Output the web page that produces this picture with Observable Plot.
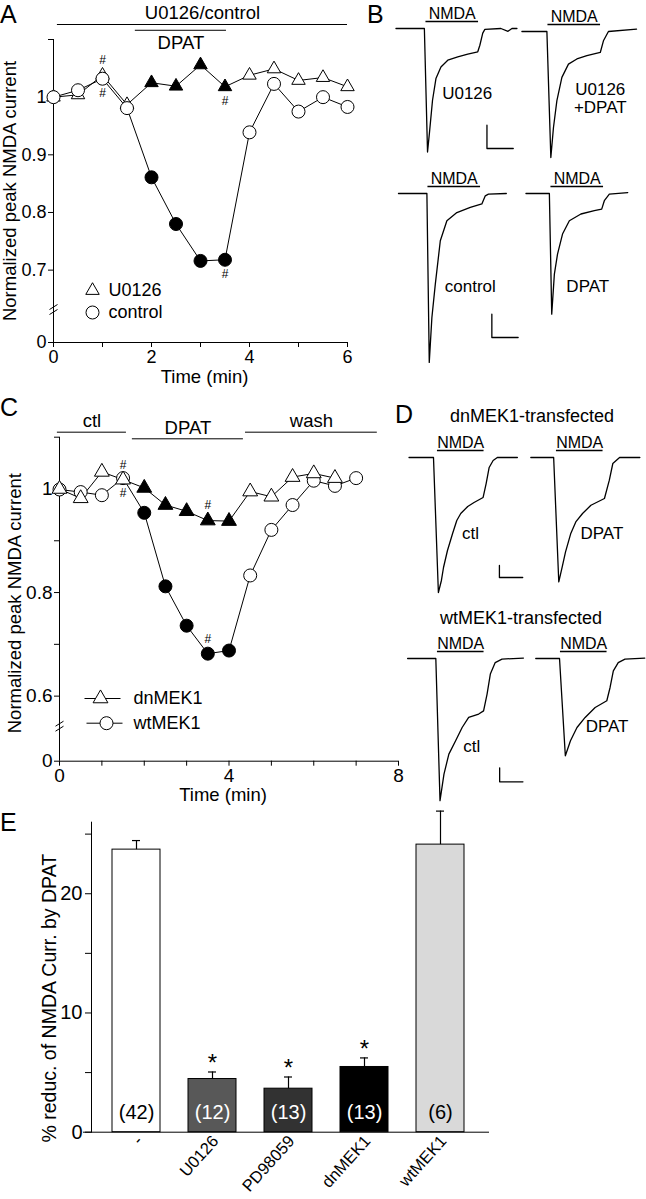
<!DOCTYPE html>
<html><head><meta charset="utf-8">
<script src="https://cdn.jsdelivr.net/npm/d3@7"></script>
<script src="https://cdn.jsdelivr.net/npm/@observablehq/plot@0.6"></script>
<style>
body{margin:0;background:#fff;}
#fig{position:relative;width:646px;height:1199px;overflow:hidden;background:#fff;font-family:"Liberation Sans",Arial,Helvetica,sans-serif;color:#000;}
.letter{position:absolute;font-size:25px;line-height:1;}
.sub{position:absolute;font-size:18px;line-height:1;transform:translate(-50%,-50%);white-space:nowrap;}
</style></head><body><div id="fig"></div>
<script>
// ---------------- DATA ----------------
// Panel A
const timeA = [0,0.5,1,1.5,2,2.5,3,3.5,4,4.5,5,5.5,6];
const u0126A = [1.0,1.004,1.038,0.987,1.025,1.019,1.056,1.018,1.038,1.049,1.029,1.034,1.018];
const controlA = [1.0,1.012,1.032,0.981,0.861,0.780,0.716,0.718,0.939,1.023,0.975,1.000,0.983];
const periodsA = [{label:"U0126/control", start:0.08, end:6.0},{label:"DPAT", start:1.67, end:3.53}];
const hashA = [{t:1,s:"U0126",side:"above"},{t:1,s:"control",side:"below"},{t:3.5,s:"U0126",side:"below"},{t:3.5,s:"control",side:"below"}];
const xTicksA = [0,1,2,3,4,5,6];
const xTickLabelsA = ["0","","2","","4","","6"];
const yTicksA = [0,0.7,0.8,0.9,1.0,1.1];
const yTickLabelsA = ["0","0.7","0.8","0.9","1",""];

// Panel C
const timeC = [0,0.5,1,1.5,2,2.5,3,3.5,4,4.5,5,5.5,6,6.5,7];
const dnMEK1C = [1.0,0.982,1.033,1.018,1.002,0.969,0.957,0.939,0.938,0.995,0.985,1.023,1.030,1.021];
const wtMEK1C = [0.999,0.994,0.988,1.021,0.954,0.812,0.736,0.682,0.688,0.833,0.921,0.969,1.016,1.006,1.021];
const periodsC = [{label:"ctl", start:-0.05, end:1.58},{label:"DPAT", start:1.72, end:4.34},{label:"wash", start:4.39, end:7.5}];
const hashC = [{t:1.5,s:"dnMEK1",side:"above"},{t:1.5,s:"wtMEK1",side:"below"},{t:3.5,s:"dnMEK1",side:"above"},{t:3.5,s:"wtMEK1",side:"above"}];
const xTicksC = [0,1,2,3,4,5,6,7,8];
const xTickLabelsC = ["0","","","","4","","","","8"];
const yTicksC = [0,0.6,0.7,0.8,0.9,1.0,1.1];
const yTickLabelsC = ["0","0.6","","0.8","","1",""];

// Panel E
const catsE = ["-","U0126","PD98059","dnMEK1","wtMEK1"];
const meansE = [23.7,4.46,3.65,5.47,24.12];
const semE = [0.76,0.59,0.98,0.76,2.81];
const nE = [42,12,13,13,6];
const sigE = [false,true,true,true,false];
const yTicksE = [0,5,10,15,20,25];
const yTickLabelsE = ["0","","10","","20",""];

// NMDA application (s) and current traces [time (s), current (scale-bar units)]
const nmdaOn = [0,2];
const traceB_U0126 = [[-1.14,0],[-0.06,0],[0.06,-5.30],[0.13,-4.51],[0.25,-3.08],[0.38,-2.15],[0.57,-1.65],[0.83,-1.36],[1.21,-1.22],[1.59,-1.10],[1.97,-1.0],[2.05,-0.72],[2.16,-0.2],[2.24,-0.04],[2.85,0],[3.12,-0.12],[3.27,0],[3.46,0]];
const traceB_U0126DPAT = [[-0.99,0],[-0.04,0],[0.11,-5.41],[0.21,-4.12],[0.34,-2.97],[0.53,-1.97],[0.78,-1.40],[1.10,-1.18],[1.48,-1.04],[1.99,-0.90],[2.11,-0.40],[2.30,0],[3.37,0.10]];
const traceB_control = [[-1.12,0],[-0.04,0],[0.05,-7.25],[0.15,-5.32],[0.28,-3.89],[0.47,-2.03],[0.72,-1.17],[1.10,-0.82],[1.61,-0.60],[2.05,-0.45],[2.18,-0.10],[2.30,-0.03],[2.98,0]];
const traceB_DPAT = [[-0.95,0],[-0.06,0],[0.03,-5.18],[0.13,-3.46],[0.25,-2.60],[0.44,-1.74],[0.70,-1.17],[1.14,-0.88],[1.65,-0.74],[1.93,-0.67],[2.03,-0.31],[2.22,-0.03],[2.92,0.04]];
const traceD_dn_ctl = [[-1.22,0],[-0.17,0],[0.04,-11.25],[0.17,-10.25],[0.26,-9.17],[0.43,-7.75],[0.65,-6.33],[0.83,-5.25],[1.0,-4.67],[1.30,-4.08],[1.57,-3.75],[1.96,-3.33],[2.09,-2.17],[2.22,-0.83],[2.39,-0.25],[2.57,0],[3.43,0]];
const traceD_dn_DPAT = [[-1.10,0],[-0.12,0],[0.10,-10.37],[0.25,-9.1],[0.39,-7.87],[0.61,-6.36],[0.83,-5.37],[1.12,-4.67],[1.48,-3.98],[2.06,-3.42],[2.27,-1.89],[2.42,-0.5],[2.71,0],[3.58,0]];
const traceD_wt_ctl = [[-1.28,0],[-0.07,0],[0.11,-10.16],[0.28,-8.26],[0.49,-6.83],[0.78,-5.88],[1.06,-4.93],[1.34,-4.21],[1.77,-3.97],[1.98,-3.74],[2.13,-2.54],[2.27,-1.11],[2.48,-0.29],[2.77,-0.04],[3.69,0.03]];
const traceD_wt_DPAT = [[-1.06,0],[-0.04,0],[0.21,-6.95],[0.43,-5.88],[0.71,-4.93],[1.06,-4.21],[1.49,-3.5],[1.99,-3.02],[2.13,-2.07],[2.27,-0.88],[2.48,-0.29],[2.77,-0.04],[3.62,0.03]];

// ---------------- DRAWING ----------------
const FONT = "'Liberation Sans', Arial, Helvetica, sans-serif";
const NARROW = "'Liberation Sans Narrow', 'Arial Narrow', 'Liberation Sans', sans-serif";
const fig = document.getElementById("fig");
function place(el, left, top){ el.style.position="absolute"; el.style.left=left+"px"; el.style.top=top+"px"; fig.appendChild(el); return el; }
function html(cls, text, left, top){ const d=document.createElement("div"); d.className=cls; d.textContent=text; return place(d,left,top); }
const baseStyle = {fontFamily: FONT, fontSize: "18px", background: "transparent", overflow: "visible", color: "black"};
const lookup = (keys, vals) => { const m = new Map(keys.map((k,i)=>[k, vals[i]])); return d => m.get(d); };
const breakSym = {draw(ctx){ ctx.moveTo(-4,-1); ctx.lineTo(4,-6); ctx.moveTo(-4,4); ctx.lineTo(4,-1); }};
const lineSym = {draw(ctx){ ctx.moveTo(-18,0); ctx.lineTo(18,0); }};

function legendRow(dx, dy, symbol, r, label, withLine){
  const out = [];
  if (withLine) out.push(Plot.dot([0], {frameAnchor:"bottom-left", dx: withLine.dx, dy, symbol: lineSym, stroke:"black", strokeWidth:1, fill:"none"}));
  out.push(Plot.dot([0], {frameAnchor:"bottom-left", dx, dy, symbol, r, stroke:"black", strokeWidth:1, fill:"white"}));
  out.push(Plot.text([label], {frameAnchor:"bottom-left", dx: withLine ? withLine.tdx : dx+16, dy, text:d=>d, textAnchor:"start", lineAnchor:"middle", fontSize:18}));
  return out;
}

// ===== Panel A =====
{
  const rows = [];
  timeA.forEach((t,i)=>{ rows.push({t, v:u0126A[i], s:"U0126"}); rows.push({t, v:controlA[i], s:"control"}); });
  const dpat = periodsA[1];
  const filled = d => (d.t >= dpat.start && d.t <= dpat.end) ? "black" : "white";
  const val = h => (h.s === "U0126" ? u0126A : controlA)[timeA.indexOf(h.t)];
  const levels = [1.126, 1.116];
  const svg = Plot.plot({
    width: 360, height: 392, marginLeft: 53, marginRight: 13, marginTop: 39, marginBottom: 50,
    style: baseStyle,
    x: {domain:[0,6], range:[53,347], label:null},
    y: {type:"linear", domain:[0,0.63,1.1], range:[342,310,39], label:null},
    marks: [
      Plot.axisX({ticks:xTicksA, tickFormat: lookup(xTicksA, xTickLabelsA), tickSize:5, tickPadding:3, fontSize:18, label:null}),
      Plot.axisY({ticks:yTicksA, tickFormat: lookup(yTicksA, yTickLabelsA), tickSize:5, tickPadding:2, fontSize:18, label:null}),
      Plot.ruleX([0], {y1:0, y2:1.1, stroke:"black"}),
      Plot.ruleY([0], {x1:0, x2:6, stroke:"black"}),
      Plot.dot([0.63], {x:()=>0, y:d=>d, symbol:breakSym, stroke:"black", strokeWidth:1, fill:"none"}),
      Plot.ruleY(periodsA, {x1:"start", x2:"end", y:(d,i)=>levels[i], stroke:"black", strokeWidth:1}),
      Plot.text(periodsA.slice(0,1), {x:d=>(d.start+d.end)/2, y:()=>levels[0], text:"label", dy:-11, fontSize:18.5}),
      Plot.text(periodsA.slice(1), {x:d=>(d.start+d.end)/2, y:()=>levels[1], text:"label", dy:13, fontSize:18.5}),
      Plot.line(rows, {x:"t", y:"v", z:"s", stroke:"black", strokeWidth:1}),
      Plot.dot(rows.filter(d=>d.s==="U0126"), {x:"t", y:"v", symbol:"triangle", r:5, stroke:"black", strokeWidth:1, fill:filled}),
      Plot.dot(rows.filter(d=>d.s==="control"), {x:"t", y:"v", r:6.5, stroke:"black", strokeWidth:1, fill:filled}),
      Plot.text(hashA.filter(h=>h.side==="above"), {x:"t", y:val, text:()=>"#", dy:-15, fontSize:12}),
      Plot.text(hashA.filter(h=>h.side==="below"), {x:"t", y:val, text:()=>"#", dy:14, fontSize:12}),
      ...legendRow(39, -52, "triangle", 5, "U0126"),
      ...legendRow(39, -30, "circle", 6.5, "control"),
      Plot.text(["Normalized peak NMDA current"], {frameAnchor:"left", rotate:-90, dx:-43, text:d=>d, textAnchor:"middle", lineAnchor:"middle", fontSize:18.5}),
      Plot.text(["Time (min)"], {frameAnchor:"bottom", dx:4, dy:35, text:d=>d, lineAnchor:"middle", fontSize:18.5})
    ]
  });
  place(svg, 0, 0);
}

// ===== Panel C =====
{
  const rows = [];
  timeC.forEach((t,i)=>{ if (i < dnMEK1C.length) rows.push({t, v:dnMEK1C[i], s:"dnMEK1"}); rows.push({t, v:wtMEK1C[i], s:"wtMEK1"}); });
  const dpat = periodsC[1];
  const filled = d => (d.t >= dpat.start && d.t <= dpat.end) ? "black" : "white";
  const val = h => (h.s === "dnMEK1" ? dnMEK1C : wtMEK1C)[timeC.indexOf(h.t)];
  const levels = [1.1097, 1.0969, 1.1097];
  const top = 395, H = 413;
  const svg = Plot.plot({
    width: 410, height: H, marginLeft: 59, marginRight: 12, marginTop: 436.7-top, marginBottom: top+H-760.7,
    style: baseStyle,
    x: {domain:[0,8], range:[59,398], label:null},
    y: {type:"linear", domain:[0,0.54,1.1], range:[760.7-top, 726.7-top, 436.7-top], label:null},
    marks: [
      Plot.axisX({ticks:xTicksC, tickFormat: lookup(xTicksC, xTickLabelsC), tickSize:5, tickPadding:2, fontSize:19, label:null}),
      Plot.axisY({ticks:yTicksC, tickFormat: lookup(yTicksC, yTickLabelsC), tickSize:5, tickPadding:2, fontSize:19, label:null}),
      Plot.ruleX([0], {y1:0, y2:1.1, stroke:"black"}),
      Plot.ruleY([0], {x1:0, x2:8, stroke:"black"}),
      Plot.dot([0.54], {x:()=>0, y:d=>d, symbol:breakSym, stroke:"black", strokeWidth:1, fill:"none"}),
      Plot.ruleY(periodsC, {x1:"start", x2:"end", y:(d,i)=>levels[i], stroke:"black", strokeWidth:1}),
      Plot.text(periodsC, {x:d=>(d.start+d.end)/2, y:(d,i)=>levels[i], text:"label", dy:-11, fontSize:18.5}),
      Plot.line(rows, {x:"t", y:"v", z:"s", stroke:"black", strokeWidth:1}),
      Plot.dot(rows.filter(d=>d.s==="wtMEK1"), {x:"t", y:"v", r:6.5, stroke:"black", strokeWidth:1, fill:filled}),
      Plot.dot(rows.filter(d=>d.s==="dnMEK1"), {x:"t", y:"v", symbol:"triangle", r:5.5, stroke:"black", strokeWidth:1, fill:filled}),
      Plot.text(hashC.filter(h=>h.side==="above"), {x:"t", y:val, text:()=>"#", dy:-15, fontSize:12}),
      Plot.text(hashC.filter(h=>h.side==="below"), {x:"t", y:val, text:()=>"#", dy:15, fontSize:12}),
      ...legendRow(41, -62.7, "triangle", 5.5, "dnMEK1", {dx:43, tdx:74}),
      ...legendRow(47, -38, "circle", 6.5, "wtMEK1", {dx:45, tdx:74}),
      Plot.text(["Normalized peak NMDA current"], {frameAnchor:"left", rotate:-90, dx:-44, dy:4, text:d=>d, textAnchor:"middle", lineAnchor:"middle", fontSize:18.5}),
      Plot.text(["Time (min)"], {frameAnchor:"bottom", dx:-6, dy:34, text:d=>d, lineAnchor:"middle", fontSize:18.5})
    ]
  });
  place(svg, 0, top);
}

// ===== Panel E =====
{
  const rows = catsE.map((c,i)=>({cat:c, mean:meansE[i], sem:semE[i], n:nE[i], sig:sigE[i]}));
  const fills = ["white","#585858","#323232","black","#d9d9d9"];
  const fillOf = d => fills[catsE.indexOf(d.cat)];
  const txtOf = d => d3.hsl(fillOf(d)).l < 0.5 ? "white" : "black";
  const top = 800;
  const svg = Plot.plot({
    width: 646, height: 399, marginLeft: 91, marginRight: 157, marginTop: 821.7-top, marginBottom: top+399-1131.7,
    style: baseStyle,
    x: {domain: catsE, range:[111,465], paddingInner:0.373, paddingOuter:0, label:null},
    y: {domain:[0,26], label:null},
    marks: [
      Plot.barY(rows, {x:"cat", y:"mean", fill:fillOf, stroke:"black", strokeWidth:1}),
      Plot.ruleX(rows, {x:"cat", y1:"mean", y2:d=>d.mean+d.sem, stroke:"black", strokeWidth:1.2}),
      Plot.tickY(rows, {x:"cat", y:d=>d.mean+d.sem, insetLeft:20, insetRight:20, stroke:"black", strokeWidth:1.2}),
      Plot.text(rows.filter(d=>d.sig), {x:"cat", y:d=>d.mean+d.sem, text:()=>"*", dy:-9, fontSize:24}),
      Plot.text(rows, {x:"cat", y:()=>0, text:d=>`(${d.n})`, dy:-20, fill:txtOf, fontFamily:NARROW, fontSize:20}),
      Plot.ruleY([0], {stroke:"black", insetLeft:-8}),
      Plot.frame({anchor:"left", stroke:"black"}),
      Plot.axisY({ticks:yTicksE, tickFormat: lookup(yTicksE, yTickLabelsE), tickSize:6, tickPadding:3, fontFamily:NARROW, fontSize:20, label:null}),
      Plot.axisX({tickSize:0, tickRotate:-48, tickPadding:6, dx:3, fontSize:16.5, label:null}),
      Plot.text(["% reduc. of NMDA Curr. by DPAT"], {frameAnchor:"left", rotate:-90, dx:-42, dy:21, text:d=>d, textAnchor:"middle", lineAnchor:"middle", fontSize:19.5})
    ]
  });
  place(svg, 0, top);
}

// ===== Traces (B, D) =====
function tracePlot({data, kx, ky, x0, y0, labels, scale}){
  const tmin = -1.5, tmax = 4.0, padTop = 36, padBottom = 185;
  const W = (tmax - tmin) * kx, H = padTop + padBottom;
  const marks = [
    Plot.line(data, {x:d=>d[0], y:d=>d[1], stroke:"black", strokeWidth:1.3}),
    Plot.ruleY([0], {x1:()=>nmdaOn[0], x2:()=>nmdaOn[1], dy:-7, stroke:"black", strokeWidth:1.3}),
    Plot.text(["NMDA"], {x:()=>(nmdaOn[0]+nmdaOn[1])/2, y:()=>0, text:d=>d, dy:-15, fontSize:16}),
    Plot.text(labels, {x:"t", y:"I", text:"text", fontSize:17, lineHeight:1.1})
  ];
  if (scale) marks.push(Plot.line([[scale.t, scale.I+1],[scale.t, scale.I],[scale.t+1, scale.I]], {x:d=>d[0], y:d=>d[1], stroke:"black", strokeWidth:1.3}));
  const svg = Plot.plot({
    width: W, height: H, margin: 0,
    style: baseStyle,
    x: {domain:[tmin,tmax], range:[0,W]},
    y: {domain:[-padBottom/ky, padTop/ky], range:[H,0]},
    axis: null,
    marks
  });
  place(svg, x0 + tmin*kx, y0 - padTop);
}
const kxB = 26.3, kyB = 23.3;
tracePlot({data:traceB_U0126, kx:kxB, ky:kyB, x0:425, y0:28.3, labels:[{text:"U0126", t:1.57, I:-2.79}], scale:{t:2.32, I:-5.15}});
tracePlot({data:traceB_U0126DPAT, kx:kxB, ky:kyB, x0:547.7, y0:30.7, labels:[{text:"U0126\n+DPAT", t:1.99, I:-2.86}]});
tracePlot({data:traceB_control, kx:kxB, ky:kyB, x0:427.7, y0:192.7, labels:[{text:"control", t:1.61, I:-3.96}], scale:{t:2.43, I:-6.18}});
tracePlot({data:traceB_DPAT, kx:kxB, ky:kyB, x0:550, y0:192.7, labels:[{text:"DPAT", t:1.40, I:-3.96}]});
const kxD = 23.3;
tracePlot({data:traceD_dn_ctl, kx:kxD, ky:12, x0:437, y0:457, labels:[{text:"ctl", t:1.42, I:-6.33}], scale:{t:2.66, I:-10.0}});
tracePlot({data:traceD_dn_DPAT, kx:kxD, ky:12, x0:556, y0:457.3, labels:[{text:"DPAT", t:1.95, I:-6.33}]});
tracePlot({data:traceD_wt_ctl, kx:kxD, ky:14, x0:436.7, y0:657.7, labels:[{text:"ctl", t:1.47, I:-6.24}], scale:{t:2.67, I:-8.81}});
tracePlot({data:traceD_wt_DPAT, kx:kxD, ky:14, x0:560, y0:657.7, labels:[{text:"DPAT", t:2.0, I:-4.81}]});

// ===== Panel letters and sub-titles =====
html("letter","A",0,2);
html("letter","B",367,2);
html("letter","C",0,395);
html("letter","D",395,402);
html("letter","E",0,810);
html("sub","dnMEK1-transfected",532,416);
html("sub","wtMEK1-transfected",521,618);
</script></body></html>
